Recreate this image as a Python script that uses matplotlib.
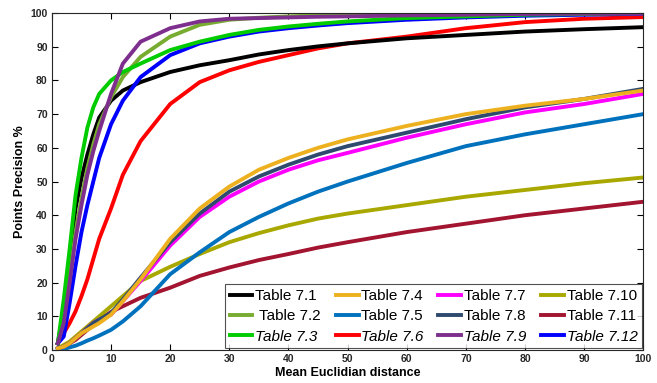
import matplotlib
matplotlib.use("Agg")
import matplotlib.pyplot as plt

# mean euclidian distance sample points (shared by every curve)
dist = [1, 2, 3, 4, 5, 6, 7, 8, 10, 12, 15, 20, 25, 30, 35, 40, 45, 50, 60, 70, 80, 90, 100]

t7_1 = [2, 12, 28, 42, 51, 58, 64, 69, 74, 77, 79.5, 82.5, 84.5, 86, 87.7, 89, 90.1, 91, 92.5, 93.5, 94.5, 95.2, 95.8]
t7_2 = [2, 9, 22, 35, 45, 54, 61, 67, 75, 81, 87, 93, 96.5, 98, 98.6, 99, 99.3, 99.5, 99.7, 99.8, 99.9, 100, 100]
t7_3 = [2, 15, 30, 46, 57, 66, 72, 76, 80, 82.5, 85, 89, 91.5, 93.5, 95, 96, 96.8, 97.5, 98.5, 99, 99.5, 99.7, 100]
t7_4 = [0.5, 1, 2, 3.5, 5, 6, 7, 8, 10.5, 14.5, 21, 33, 42, 48.5, 53.5, 57, 60, 62.5, 66.5, 70, 72.5, 74.5, 77]
t7_5 = [0, 0.3, 0.8, 1.3, 2, 2.8, 3.5, 4.3, 6, 8.5, 13, 22.5, 29, 35, 39.5, 43.5, 47, 50, 55.5, 60.5, 64, 67, 70]
t7_6 = [2, 5, 8, 11.5, 16, 21, 27, 33, 42, 52, 62, 73, 79.5, 83, 85.5, 87.5, 89.5, 91, 93, 95.5, 97.3, 98.3, 98.8]
t7_7 = [0.5, 1, 2, 3.5, 5, 6.5, 8, 9, 10.5, 14.5, 20.5, 31, 39.5, 45.5, 50, 53.5, 56.3, 58.5, 63, 67, 70.5, 73, 76]
t7_8 = [0.5, 1, 2, 3.5, 5, 6.5, 8, 9, 11, 15, 21.5, 32, 40.5, 47, 51.5, 55, 58, 60.5, 64.5, 68.5, 72, 74.5, 77.5]
t7_9 = [2, 8, 20, 33, 43, 52, 59, 65, 76, 85, 91.5, 95.5, 97.5, 98.3, 98.5, 98.7, 98.9, 99, 99.3, 99.5, 99.7, 99.8, 99.8]
t7_10 = [0.5, 1.5, 2.5, 4, 5.5, 7, 8.5, 10, 13, 16, 20.5, 24.7, 28.5, 32, 34.7, 37, 39, 40.5, 43, 45.5, 47.5, 49.5, 51.2]
t7_11 = [0.5, 1, 2, 3, 4.5, 6, 7.5, 9, 11.3, 13, 15.5, 18.5, 22, 24.5, 26.7, 28.5, 30.4, 32, 35, 37.5, 40, 42, 44]
t7_12 = [2, 4, 14, 25, 35, 43, 50, 57, 67, 74, 81, 87.5, 91, 93, 94.5, 95.5, 96.3, 97, 98, 98.7, 99.2, 99.5, 99.8]

# (values, colour, label, italic) in legend (column-major) order
SERIES = [
    (t7_1, "#000000", "Table 7.1", False),
    (t7_2, "#77AC30", " Table 7.2", False),
    (t7_3, "#00CC00", "Table 7.3", True),
    (t7_4, "#EDB120", "Table 7.4", False),
    (t7_5, "#0072BD", "Table 7.5", False),
    (t7_6, "#FF0000", "Table 7.6", True),
    (t7_7, "#FF00FF", "Table 7.7", False),
    (t7_8, "#2E4A6E", "Table 7.8", False),
    (t7_9, "#7E2F8E", "Table 7.9", True),
    (t7_10, "#A8A800", "Table 7.10", False),
    (t7_11, "#A2142F", "Table 7.11", False),
    (t7_12, "#0000FF", "Table 7.12", True),
]

plt.rcParams["font.family"] = ["Liberation Sans", "DejaVu Sans"]

fig = plt.figure(figsize=(6.57, 3.83), dpi=100)
ax = fig.add_axes([0.079, 0.086, 0.900, 0.880])

# draw the lower group first so the steep curves sit on top, as in the original
draw_order = [10, 9, 4, 6, 7, 3, 5, 0, 11, 1, 2, 8]
lines = {}
for i in draw_order:
    vals, col, lab, _ = SERIES[i]
    lines[i], = ax.plot(dist, vals, color=col, lw=2.8, label=lab)

ax.set_xlim(0, 100)
ax.set_ylim(0, 100)
ax.set_xticks(range(0, 101, 10))
ax.set_yticks(range(0, 101, 10))
ax.tick_params(direction="in", length=4, width=0.8, top=True, right=True,
               labelsize=7.5, pad=3)
for lbl in ax.get_xticklabels() + ax.get_yticklabels():
    lbl.set_fontweight("bold")
    lbl.set_color("#262626")
for sp in ax.spines.values():
    sp.set_linewidth(0.8)
    sp.set_color("#262626")

ax.set_xlabel("Mean Euclidian distance", fontsize=9, fontweight="bold", labelpad=2)
ax.set_ylabel("Points Precision %", fontsize=9, fontweight="bold", labelpad=3.5)

handles = [lines[i] for i in range(len(SERIES))]
leg = ax.legend(handles=handles, labels=[s[2] for s in SERIES], ncol=4,
                loc="lower right", bbox_to_anchor=(0.998, 0.005),
                fontsize=11, frameon=True, fancybox=False, edgecolor="#262626",
                handlelength=1.5, handletextpad=0.15, columnspacing=1.0,
                labelspacing=0.42, borderpad=0.3, borderaxespad=0.0)
leg.get_frame().set_linewidth(0.8)
for txt, s in zip(leg.get_texts(), SERIES):
    if s[3]:
        txt.set_fontstyle("italic")

fig.savefig("out.png", dpi=100)
